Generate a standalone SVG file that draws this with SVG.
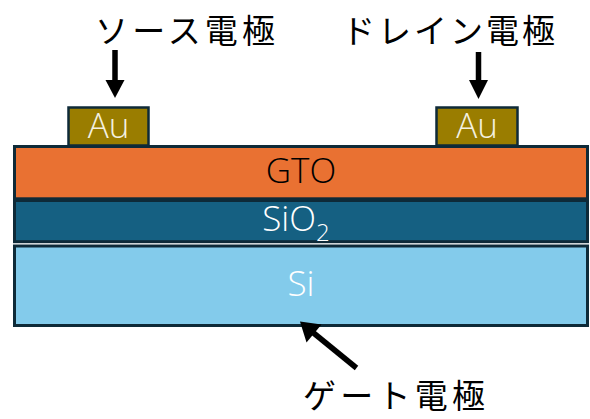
<svg xmlns="http://www.w3.org/2000/svg" width="590" height="419" viewBox="0 0 590 419">
<defs>
<style>
.layer{stroke:#0e2a38;stroke-width:3}
.au{fill:#9a7d00;stroke:#0e2a38;stroke-width:2.5}
.lbl{font-family:"Noto Sans CJK JP",sans-serif;font-size:33px;fill:#000}
.mat{font-family:"Open Sans","Liberation Sans",sans-serif;font-weight:300;font-size:35px;text-anchor:middle}
.arr{stroke:#000;stroke-width:5.5;fill:none}
.head{fill:#000}
</style>
</defs>
<rect width="590" height="419" fill="#fff"/>
<g id="gto">
<rect class="layer" x="14.5" y="146.5" width="573" height="52.3" fill="#e97132"/>
<text class="mat" x="301" y="182.5" fill="#000">GTO</text>
</g>
<g id="sio2">
<rect class="layer" x="14.5" y="200.5" width="573" height="41.2" fill="#156082"/>
<text class="mat" x="296" y="231" fill="#fff">SiO<tspan font-size="24px" dy="10">2</tspan></text>
</g>
<g id="si">
<rect class="layer" x="14.5" y="246" width="573" height="79.5" fill="#83cbeb"/>
<text class="mat" x="301" y="296" fill="#fff">Si</text>
</g>
<g id="au-source">
<rect class="au" x="68.5" y="107.5" width="80" height="38"/>
<text class="mat" x="108.5" y="137.5" fill="#f4f1e0">Au</text>
</g>
<g id="au-drain">
<rect class="au" x="436.5" y="107.5" width="81" height="38"/>
<text class="mat" x="477" y="137.5" fill="#f4f1e0">Au</text>
</g>
<g id="label-source">
<text class="lbl" x="95" y="42.5" textLength="180" lengthAdjust="spacing">ソース電極</text>
</g>
<g id="label-drain">
<text class="lbl" x="342" y="42.5" textLength="213" lengthAdjust="spacing">ドレイン電極</text>
</g>
<g id="label-gate">
<text class="lbl" x="303" y="408" textLength="182" lengthAdjust="spacing">ゲート電極</text>
</g>
<g id="connectors">
<line class="arr" x1="115" y1="50" x2="115" y2="82"/>
<polygon class="head" points="105.5,80 124.5,80 115,98"/>
<line class="arr" x1="478.5" y1="52" x2="478.5" y2="82"/>
<polygon class="head" points="469,80 488,80 478.5,99"/>
<line class="arr" x1="356.5" y1="368" x2="313" y2="332.5"/>
<polygon class="head" points="300,321.5 306.5,342.5 321.5,324.5"/>
</g>
</svg>
